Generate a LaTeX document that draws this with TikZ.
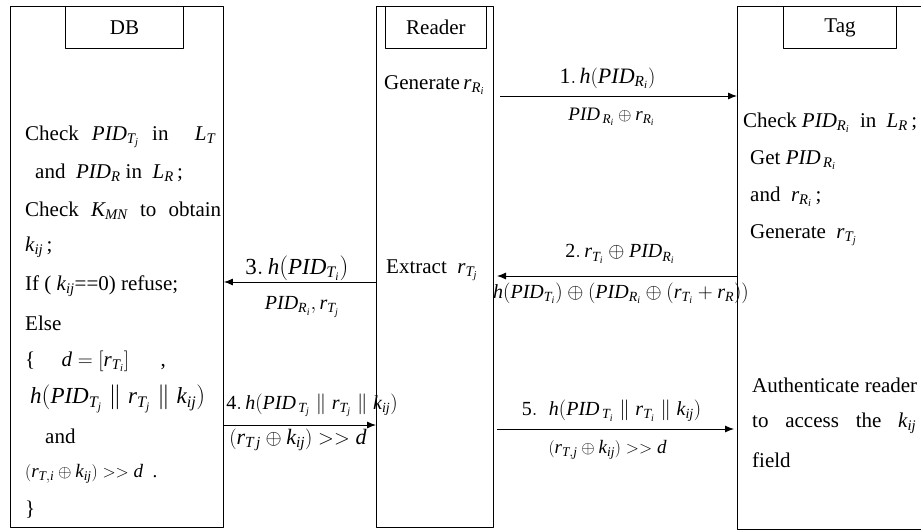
\documentclass[tikz,border=0pt]{standalone}
\usepackage{mathspec}
\setmainfont{Liberation Serif}
\setmathsfont(Digits,Latin){Liberation Serif}
\usetikzlibrary{arrows.meta}
\newcommand\fsz[1]{\fontsize{#1}{#1}\selectfont}
\begin{document}
\begin{tikzpicture}[x=1pt, y=-1pt, line join=round, >={Latex[length=9pt,width=7pt]}, font=\fsz{21}]
\tikzset{every node/.style={inner sep=0pt},
  lane/.style={draw, line width=0.9pt, anchor=north west, minimum height=521pt},
  head/.style={draw, line width=0.9pt, anchor=north west, minimum height=42pt},
  txt/.style={anchor=west},
  msg/.style={->, line width=0.9pt}}
\useasboundingbox (0,0) rectangle (921,530);
\clip (0,0) rectangle (921,530);
% lifelines and titles
\node[lane, minimum width=213pt] (db) at (10,6) {};
\node[lane, minimum width=117pt] (reader) at (376,6) {};
\node[lane, minimum width=200pt, minimum height=523pt] (tag) at (737,6) {};
\node[head, minimum width=118pt] (dbhead) at (65,6) {DB};
\node[head, minimum width=101pt] (readerhead) at (385,6) {Reader};
\node[head, minimum width=113pt] (taghead) at (783,6) {Tag};
% DB side
\path (25,137) node[txt] (db1) {\makebox[190pt][s]{Check $PID_{T_j}$ in \ $L_T$}}
  (35,173) node[txt] (db2) {and \ $PID_R$ in \ $L_R$\,;}
  (25,211) node[txt] (db3) {\makebox[196pt][s]{Check $K_{MN}$ to obtain}}
  (25,247) node[txt] (db4) {$k_{ij}$\,;}
  (25,286) node[txt] (db5) {If ( $k_{ij}$==0) refuse;}
  (25,323) node[txt] (db6) {Else}
  (25,361) node[txt] (db7) {\{\quad\ $d=[r_{T_i}]$\quad\ \ ,}
  (30,399) node[txt, font=\fsz{23}] (db8) {$h(PID_{T_j}\parallel r_{T_j}\parallel k_{ij})$}
  (45,436) node[txt] (db9) {and}
  (25,474) node[txt, font=\fsz{19}] (db10) {$(r_{T,i}\oplus k_{ij}) >> d$\ \ .}
  (25,510) node[txt] (db11) {\}};
% Reader side
\path (384,85) node[txt] (rd1) {Generate$\,r_{R_i}$}
  (386,270) node[txt] (rd2) {Extract \ $r_{T_j}$};
% Tag side
\path (743,123) node[txt] (tg1) {\makebox[174pt][s]{Check $PID_{R_i}$ \ in \ $L_R$\,;}}
  (750,160) node[txt] (tg2) {Get $PID_{\,R_i}$}
  (750,197) node[txt] (tg3) {and \ $r_{R_i}$\,;}
  (750,235) node[txt] (tg4) {Generate \ $r_{T_j}$}
  (752,385) node[txt] (tg5) {Authenticate reader}
  (752,423) node[txt] (tg6) {\makebox[164pt][s]{to access the $k_{ij}$}}
  (752,460) node[txt] (tg7) {field};
% message end points
\coordinate (m1s) at (500,96);
\coordinate (m1e) at (tag.west |- m1s);
\coordinate (m2s) at (tag.west |- 0,276);
\coordinate (m2e) at (497,276);
\coordinate (m3s) at (reader.west |- 0,282);
\coordinate (m3e) at (db.east |- m3s);
\coordinate (m4s) at (db.east |- 0,425);
\coordinate (m4e) at (reader.west |- m4s);
\coordinate (m5s) at (497,429);
\coordinate (m5e) at ([xshift=-3pt]tag.west |- m5s);
% messages
\draw[msg] (m1s) -- (m1e) node[midway, font=\fsz{22}, xshift=-11pt, yshift=18pt] (m1a) {$1.\,h(PID_{R_i})$}
  node[midway, font=\fsz{19}, xshift=-7pt, yshift=-21pt] (m1b) {$PID_{\,R_i}\oplus r_{R_i}$};
\draw[msg] (m2s) -- (m2e) node[midway, font=\fsz{20}, xshift=3pt, yshift=22pt] (m2a) {$2.\,r_{T_i}\oplus PID_{R_i}$}
  node[midway, font=\fsz{20}, xshift=4pt, yshift=-17pt] (m2b) {$h(PID_{T_i})\oplus(PID_{R_i}\oplus(r_{T_i}+r_R))$};
\draw[msg] (m3s) -- (m3e) node[midway, font=\fsz{23}, xshift=-3pt, yshift=14pt] (m3a) {$3.\,h(PID_{T_i})$}
  node[midway, font=\fsz{20}, xshift=2pt, yshift=-25pt] (m3b) {$PID_{R_i}, r_{T_j}$};
\draw[msg] (m4s) -- (m4e) node[midway, font=\fsz{20}, xshift=12pt, yshift=20pt] (m4a) {$4.\,h(PID_{\,T_j}\parallel r_{T_j}\parallel k_{ij})$}
  node[midway, font=\fsz{22}, xshift=-2pt, yshift=-15pt] (m4b) {$(r_{T\,j}\oplus k_{ij}) >> d$};
\draw[msg] (m5s) -- (m5e) node[midway, font=\fsz{20}, xshift=-4pt, yshift=18pt] (m5a) {$5.\;\;h(PID_{\,T_i}\parallel r_{T_i}\parallel k_{ij})$}
  node[midway, font=\fsz{19}, xshift=-8pt, yshift=-21pt] (m5b) {$(r_{T,j}\oplus k_{ij}) >> d$};
\end{tikzpicture}
\end{document}
